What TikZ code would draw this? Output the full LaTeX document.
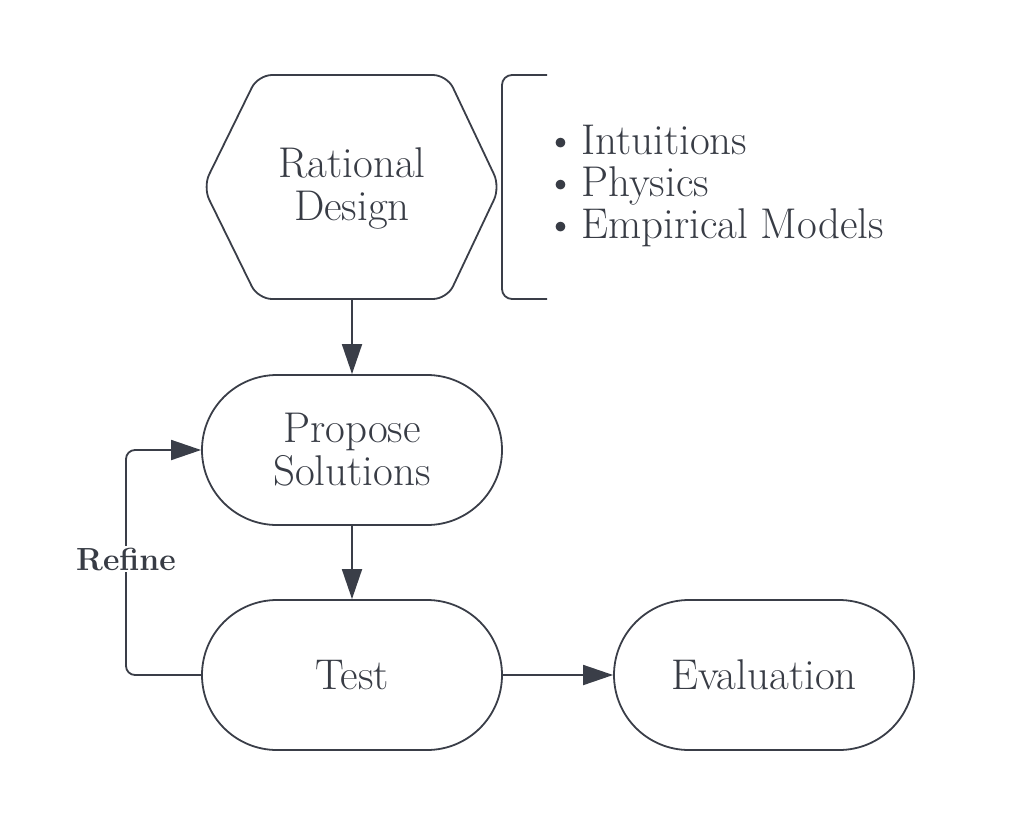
\documentclass[tikz,border=0pt]{standalone}
\usetikzlibrary{shapes.misc,arrows.meta}
\definecolor{ink}{HTML}{3A3E48}
\definecolor{txt}{HTML}{383C45}
\begin{document}
\begin{tikzpicture}[x=1pt,y=-1pt,
  every node/.style={text=txt},
  shapeline/.style={draw=ink,line width=1.8pt},
  stadium/.style={shapeline,rounded rectangle,minimum width=300pt,minimum height=150pt,inner sep=0pt,align=center,font=\fontsize{43}{43}\selectfont},
  conn/.style={draw=ink,line width=1.8pt,-{Triangle[length=30pt,width=20pt]}},
  maintext/.style={align=center,font=\fontsize{43}{43}\selectfont}]
\useasboundingbox (0,0) rectangle (1028,825);
% hexagon
\draw[shapeline,rounded corners=14pt] (258,75) -- (447,75) -- (500,187) -- (447,299) -- (258,299) -- (203,187) -- cycle;
\node[maintext] (rd) at (352,188) {Rational\\Design};
\coordinate (rdb) at (352,299);
% bracket
\draw[shapeline,rounded corners=10pt] (547,75) -- (502,75) -- (502,299) -- (547,299);
\node[anchor=west,align=left,inner sep=0pt,font=\fontsize{43}{42}\selectfont] (list) at (545,186) {\textbullet\hspace{5pt}Intuitions\\\textbullet\hspace{5pt}Physics\\\textbullet\hspace{5pt}Empirical Models};
% stadiums
\node[stadium] (ps) at (352,450) {Propose\\Solutions};
\node[stadium] (test) at (352,675) {Test};
\node[stadium] (ev) at (764,675) {Evaluation};
% connectors
\draw[conn] (rdb) -- (ps.north);
\draw[conn] (ps.south) -- (test.north);
\draw[conn] (test.east) -- (ev.west);
\coordinate (lb) at (126,675);
\coordinate (lt) at (126,450);
\draw[conn,rounded corners=9pt] (test.west) -- (lb) -- (lt) -- (ps.west);
\node[fill=white,inner sep=2pt,font=\fontsize{32}{34}\selectfont\bfseries] (refine) at (126,559) {Refine};
\end{tikzpicture}
\end{document}
